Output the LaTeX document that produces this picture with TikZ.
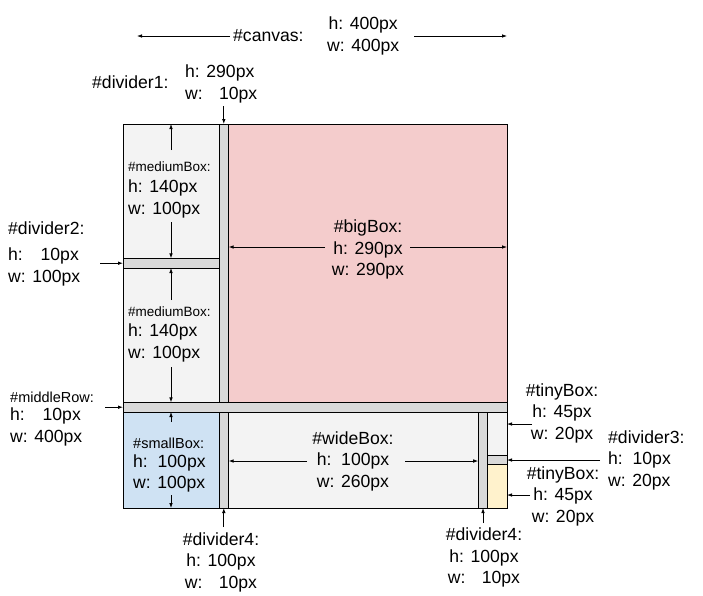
\documentclass[tikz,border=0pt]{standalone}
\usepackage{fontspec}
\setmainfont{Liberation Sans}
\usetikzlibrary{arrows.meta}
\definecolor{bigpink}{HTML}{F4CCCC}
\definecolor{divgrey}{HTML}{D9D9D9}
\definecolor{lightgrey}{HTML}{F3F3F3}
\definecolor{smallblue}{HTML}{CFE2F3}
\definecolor{tinyyellow}{HTML}{FFF2CC}

\begin{document}
\begin{tikzpicture}[x=1pt, y=-1pt,
		box/.style={draw, line width=.9pt, inner sep=0pt, outer sep=0pt, anchor=north west},
		lbl/.style={inner sep=0pt, font=\fontsize{17.6}{21.5}\selectfont, align=left},
		tag/.style={inner sep=0pt, anchor=west, font=\fontsize{#1}{16}\selectfont},
		dim/.style={-{Latex[length=5pt,width=3.6pt]}, line width=.8pt}]
	\useasboundingbox (0,0) rectangle (703,595);
	% boxes of the canvas
	\node[box, fill=lightgrey, minimum width=96, minimum height=134.4] (med1) at (123,124) {};
	\node[box, fill=divgrey, minimum width=96, minimum height=9.6] (div2) at (123,258.4) {};
	\node[box, fill=lightgrey, minimum width=96, minimum height=134.4] (med2) at (123,268) {};
	\node[box, fill=divgrey, minimum width=9.6, minimum height=278.4] (div1) at (219,124) {};
	\node[box, fill=bigpink, minimum width=278.4, minimum height=278.4] (big) at (228.6,124) {};
	\node[box, fill=divgrey, minimum width=384, minimum height=9.6] (mid) at (123,402.4) {};
	\node[box, fill=smallblue, minimum width=96, minimum height=96] (small) at (123,412) {};
	\node[box, fill=divgrey, minimum width=9.6, minimum height=96] (div4a) at (219,412) {};
	\node[box, fill=lightgrey, minimum width=249.6, minimum height=96] (wide) at (228.6,412) {};
	\node[box, fill=divgrey, minimum width=9.6, minimum height=96] (div4b) at (478.2,412) {};
	\node[box, fill=lightgrey, minimum width=19.2, minimum height=43.2] (tiny1) at (487.8,412) {};
	\node[box, fill=divgrey, minimum width=19.2, minimum height=9.6] (div3) at (487.8,455.2) {};
	\node[box, fill=tinyyellow, minimum width=19.2, minimum height=43.2] (tiny2) at (487.8,464.8) {};

	% labels
	\node[lbl, anchor=west] (canvasLbl) at (233,36) {\#canvas:};
	\node[lbl, anchor=west, align=center] (canvasDim) at (327,36) {h: 400px\\w: 400px};
	\node[lbl, anchor=west] (div1Lbl) at (92,82) {\#divider1:};
	\node[lbl, anchor=west] (div1Dim) at (185,84) {h: 290px\\w: \hphantom{0}10px};
	\node[tag=13.5] (med1Name) at (128,167) {\#mediumBox:};
	\node[lbl, anchor=west] (med1Dim) at (128,199) {h: 140px\\w: 100px};
	\node[lbl, anchor=west] (div2Lbl) at (8,228) {\#divider2:};
	\node[lbl, anchor=west] (div2Dim) at (8,267) {h: \hphantom{0}\hspace{1.5pt}10px\\w: 100px};
	\node[tag=13.5] (med2Name) at (128,312) {\#mediumBox:};
	\node[lbl, anchor=west] (med2Dim) at (128,343) {h: 140px\\w: 100px};
	\node[lbl, align=center] (bigLbl) at (368,249.5) {\#bigBox:\\h: 290px\\w: 290px};
	\node[tag=14.5] (midName) at (10,397) {\#middleRow:};
	\node[lbl, anchor=west] (midDim) at (10,427) {h: \hphantom{0}\hspace{1.5pt}10px\\w: 400px};
	\node[tag=14.5] (smallName) at (133,443) {\#smallBox:};
	\node[lbl, anchor=west] (smallDim) at (133,473.5) {h:\ \ 100px\\w: 100px};
	\node[lbl, align=center] (wideLbl) at (353,461) {\#wideBox:\\h:\ \ 100px\\w: 260px};
	\node[lbl, align=center] (tiny1Lbl) at (562,413) {\#tinyBox:\\h: 45px\\w: 20px};
	\node[lbl, anchor=west] (div3Lbl) at (608,460) {\#divider3:\\h:\ \ 10px\\w: 20px};
	\node[lbl, align=center] (tiny2Lbl) at (563,496) {\#tinyBox:\\h: 45px\\w: 20px};
	\node[lbl, align=center] (div4aLbl) at (221,562) {\#divider4:\\h: 100px\\w: \hphantom{0}10px};
	\node[lbl, align=center] (div4bLbl) at (484,557.5) {\#divider4:\\h: 100px\\w: \hphantom{0}10px};

	% free ends of the arrows
	\node[shape=coordinate] (cvL) at (137,36) {};
	\node[shape=coordinate] (cvR) at (507,36) {};
	\node[shape=coordinate] (d1t) at (223.8,106) {};
	\node[shape=coordinate] (m1a) at (171,150) {};
	\node[shape=coordinate] (m1b) at (171,222) {};
	\node[shape=coordinate] (d2t) at (100,263.2) {};
	\node[shape=coordinate] (m2a) at (171,300) {};
	\node[shape=coordinate] (m2b) at (171,367) {};
	\node[shape=coordinate] (mrt) at (105,407.2) {};
	\node[shape=coordinate] (sba) at (171,422) {};
	\node[shape=coordinate] (sbb) at (171,495) {};
	\node[shape=coordinate] (d4at) at (223.8,527) {};
	\node[shape=coordinate] (bga) at (325,247) {};
	\node[shape=coordinate] (bgb) at (410,247) {};
	\node[shape=coordinate] (wba) at (307,461) {};
	\node[shape=coordinate] (wbb) at (405,461) {};
	\node[shape=coordinate] (t1t) at (532,424) {};
	\node[shape=coordinate] (d3t) at (600,460) {};
	\node[shape=coordinate] (t2t) at (530,495) {};
	\node[shape=coordinate] (d4bt) at (483,523) {};

	\begin{scope}[dim]
		\draw ([xshift=-3pt]canvasLbl.west) -- (cvL);
		\draw ([xshift=15pt]canvasDim.east) -- (cvR);
		\draw (d1t) -- (div1.north);
		\draw (m1a) -- (med1.north);
		\draw (m1b) -- (med1.south);
		\draw (d2t) -- (div2.west);
		\draw (m2a) -- (med2.north);
		\draw (m2b) -- (med2.south);
		\draw (mrt) -- (mid.west);
		\draw (sba) -- (small.north);
		\draw (sbb) -- (small.south);
		\draw (d4at) -- (div4a.south);
		\draw (bga) -- (bga -| big.west);
		\draw (bgb) -- (bgb -| big.east);
		\draw (wba) -- (wba -| wide.west);
		\draw (wbb) -- (wbb -| wide.east);
		\draw (t1t) -- (t1t -| tiny1.east);
		\draw (d3t) -- (div3.east);
		\draw (t2t) -- (t2t -| tiny2.east);
		\draw (d4bt) -- (div4b.south);
	\end{scope}
\end{tikzpicture}
\end{document}
